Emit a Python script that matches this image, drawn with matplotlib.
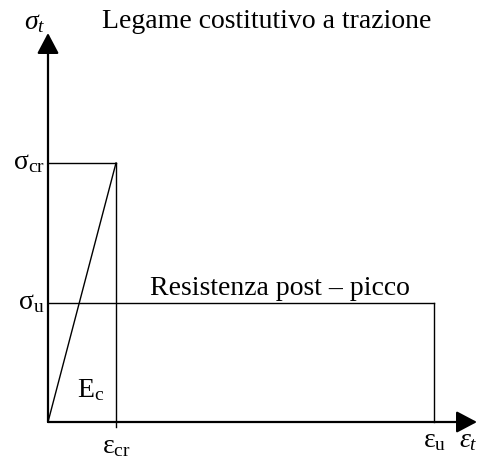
import matplotlib
matplotlib.use("Agg")
import matplotlib.pyplot as plt

plt.rcParams['mathtext.fontset'] = 'custom'
plt.rcParams['mathtext.rm'] = 'Liberation Serif'
plt.rcParams['mathtext.it'] = 'Liberation Serif:italic'
plt.rcParams['font.family'] = ['Liberation Serif', 'DejaVu Serif']

# Data (arbitrary units)
eps_cr = 1.0
eps_u = 5.68
sig_cr = 1.0
sig_u = 0.46

title = "Legame costitutivo a trazione"
post_label = "Resistenza post \u2013 picco"
modulus_label = r"$\mathrm{E_c}$"
ylab = r"$\sigma_t$"
xlab = r"$\varepsilon_t$"
sig_cr_lab = r"$\mathrm{\sigma}_{\mathrm{cr}}$"
sig_u_lab = r"$\mathrm{\sigma}_{\mathrm{u}}$"
eps_cr_lab = r"$\mathrm{\epsilon}_{\mathrm{cr}}$"
eps_u_lab = r"$\mathrm{\epsilon}_{\mathrm{u}}$"

W, H = 478, 459
fig = plt.figure(figsize=(W / 100, H / 100), dpi=100)
ax = fig.add_axes([0, 0, 1, 1])
ax.set_axis_off()
# pixel layout: origin at (48, 422) px; eps_cr -> 68 px, sig_cr -> 259 px
ax.set_xlim(-48 / 68, (W - 48) / 68)
ax.set_ylim(-(H - 422) / 259, 422 / 259)

x_end = (W - 49) / 68
y_end = (422 - 33) / 259

lw_in = 1.0
lw_ax = 1.6
arrow = dict(arrowstyle='-|>,head_length=0.7,head_width=0.37',
             lw=lw_ax, color='k', mutation_scale=18, shrinkA=0, shrinkB=0)
ax.annotate('', xy=(x_end, 0), xytext=(0, 0), arrowprops=arrow)
ax.annotate('', xy=(0, y_end), xytext=(0, 0), arrowprops=arrow)

# constitutive law
ax.plot([0, eps_cr], [0, sig_cr], color='k', lw=lw_in)
ax.plot([0, eps_cr], [sig_cr, sig_cr], color='k', lw=lw_in)
ax.plot([eps_cr, eps_cr], [sig_cr, -0.02], color='k', lw=lw_in)
ax.plot([0, eps_u], [sig_u, sig_u], color='k', lw=lw_in)
ax.plot([eps_u, eps_u], [sig_u, 0], color='k', lw=lw_in)

fs = 20
ax.annotate(sig_cr_lab, xy=(0, sig_cr), xytext=(-3, 0), textcoords='offset pixels',
            ha='right', va='center', fontsize=fs)
ax.annotate(sig_u_lab, xy=(0, sig_u), xytext=(-3, 0), textcoords='offset pixels',
            ha='right', va='center', fontsize=fs)
ax.annotate(eps_cr_lab, xy=(eps_cr, 0), xytext=(0, -31), textcoords='offset pixels',
            ha='center', va='baseline', fontsize=fs)
ax.annotate(eps_u_lab, xy=(eps_u, 0), xytext=(0, -25), textcoords='offset pixels',
            ha='center', va='baseline', fontsize=fs)
ax.annotate(xlab, xy=(x_end, 0), xytext=(-9, -25), textcoords='offset pixels',
            ha='center', va='baseline', fontsize=fs)
ax.annotate(ylab, xy=(0, y_end), xytext=(-13, 4), textcoords='offset pixels',
            ha='center', va='baseline', fontsize=fs)
ax.text(102 / W, 1 - 28 / H, title, transform=fig.transFigure, ha='left',
        va='baseline', fontsize=fs)
ax.annotate(post_label, xy=(0, sig_u), xytext=(102, 8), textcoords='offset pixels',
            ha='left', va='baseline', fontsize=fs)
ax.annotate(modulus_label, xy=(0, 0), xytext=(29, 25), textcoords='offset pixels',
            ha='left', va='baseline', fontsize=fs)

fig.savefig("out.png", dpi=100)
